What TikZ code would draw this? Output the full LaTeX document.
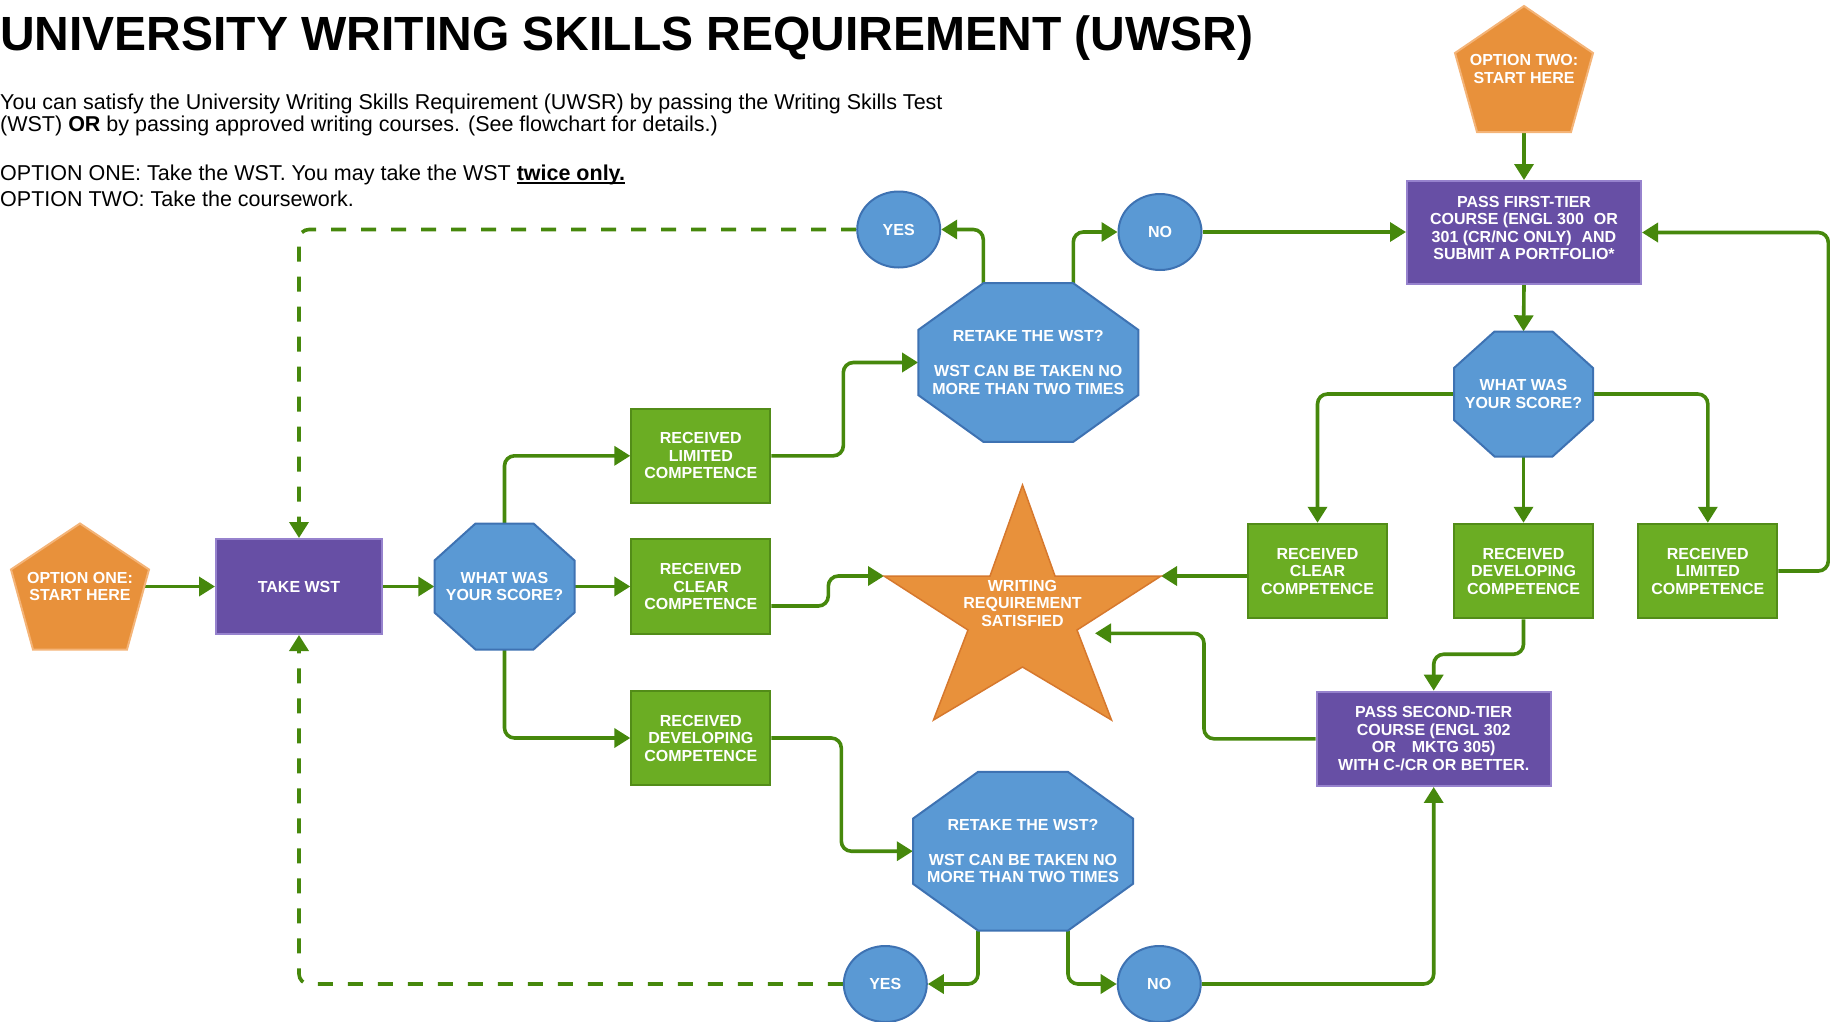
\documentclass[tikz,border=0pt]{standalone}
\usepackage{fontspec}
\setmainfont{Liberation Sans}
\usetikzlibrary{arrows.meta,shapes.geometric,calc}
\pgfdeclarelayer{bg}
\pgfsetlayers{bg,main}
\definecolor{lgreen}{RGB}{70,136,12}
\definecolor{bgreen}{RGB}{107,173,35}
\definecolor{bgreend}{RGB}{82,140,24}
\definecolor{purp}{RGB}{103,79,165}
\definecolor{purpd}{RGB}{150,130,205}
\definecolor{blu}{RGB}{90,153,212}
\definecolor{blud}{RGB}{62,114,178}
\definecolor{orng}{RGB}{232,145,59}
\definecolor{orngl}{RGB}{244,180,120}
\definecolor{orngd}{RGB}{214,120,45}
% style, cx, cy, halfwidth, halfheight, half top edge, half side edge
\newcommand{\octo}[7]{\path[#1] ({#2-#6},{#3-#5}) -- ({#2+#6},{#3-#5}) -- ({#2+#4},{#3-#7}) -- ({#2+#4},{#3+#7}) -- ({#2+#6},{#3+#5}) -- ({#2-#6},{#3+#5}) -- ({#2-#4},{#3+#7}) -- ({#2-#4},{#3-#7}) -- cycle;}
\newcommand{\myul}[1]{\setbox0\hbox{#1}\rlap{\rule[-3.8pt]{\wd0}{2.3pt}}\box0}
\begin{document}
\begin{tikzpicture}[x=1pt,y=-1pt,
  conn/.style={draw=lgreen, line width=3.6pt, rounded corners=10pt, -{Triangle[length=16pt,width=19pt]}},
  dconn/.style={conn, dash pattern=on 15pt off 15pt},
  ntxt/.style={text=white, font=\fontsize{16}{17.5}\selectfont\bfseries, align=center, inner sep=0pt},
  gbox/.style={ntxt, rectangle, fill=bgreen, draw=bgreend, line width=2pt, minimum width=139pt, minimum height=94.5pt},
  pbox/.style={ntxt, rectangle, fill=purp, draw=purpd, line width=2pt},
  oval/.style={ntxt, ellipse, fill=blu, draw=blud, line width=2pt, minimum width=83pt, minimum height=76pt},
  octshape/.style={fill=blu, draw=blud, line width=2pt},
  pentshape/.style={fill=orng, draw=orngl, line width=2pt},
  starshape/.style={fill=orng, draw=orngd, line width=1.5pt},
  plain/.style={anchor=base west, inner sep=0pt, font=\fontsize{21.5}{24.5}\selectfont}
]
\useasboundingbox (0,0) rectangle (1830,1021);

% header text
\node[anchor=base west, inner sep=0pt, font=\fontsize{48}{56}\selectfont\bfseries] (title) at (0,50.5) {UNIVERSITY WRITING SKILLS REQUIREMENT (UWSR)};
\node[plain] (p1) at (0,109) {You can satisfy the University Writing Skills Requirement (UWSR) by passing the Writing Skills Test};
\node[plain] (p2) at (0,131.5) {(WST) \textbf{OR} by passing approved writing courses. (See flowchart for details.)};
\node[plain] (p3) at (0,180.5) {OPTION ONE: Take the WST. You may take the WST \myul{\textbf{twice only.}}};
\node[plain] (p4) at (0,206) {OPTION TWO: Take the coursework.};

% option one pentagon
\path[pentshape] (80,523.5) -- (149,569.5) -- (127,649.5) -- (33,649.5) -- (11,569.5) -- cycle;
\node[ntxt, minimum width=138pt, minimum height=126pt] (opt1) at (80,586.5) {OPTION ONE:\\START HERE};

% option two pentagon
\path[pentshape] (1524,6) -- (1593,53) -- (1571,132) -- (1477,132) -- (1455,53) -- cycle;
\node[ntxt, minimum width=138pt, minimum height=126pt] (opt2) at (1524,69) {OPTION TWO:\\START HERE};

% take wst
\node[pbox, minimum width=166pt, minimum height=95pt] (takewst) at (299,586.5) {TAKE WST};

% score octagons
\octo{octshape}{504.5}{586.5}{70}{63}{29}{26}
\node[ntxt, minimum width=140pt, minimum height=126pt] (score1) at (504.5,586.5) {WHAT WAS\\YOUR SCORE?};
\octo{octshape}{1523.5}{394}{69.5}{62.5}{29}{26}
\node[ntxt, minimum width=139pt, minimum height=125pt] (score2) at (1523.5,394) {WHAT WAS\\YOUR SCORE?};

% left green boxes
\node[gbox] (lim1) at (700.8,455.8) {RECEIVED\\LIMITED\\COMPETENCE};
\node[gbox] (clr1) at (700.8,586.5) {RECEIVED\\CLEAR\\COMPETENCE};
\node[gbox] (dev1) at (700.8,738) {RECEIVED\\DEVELOPING\\COMPETENCE};

% right green boxes
\node[gbox] (clr2) at (1317.5,571) {RECEIVED\\CLEAR\\COMPETENCE};
\node[gbox] (dev2) at (1523.5,571) {RECEIVED\\DEVELOPING\\COMPETENCE};
\node[gbox] (lim2) at (1707.8,571) {RECEIVED\\LIMITED\\COMPETENCE};

% retake octagons
\octo{octshape}{1028.3}{362.5}{110}{79.3}{45}{32.6}
\node[ntxt, minimum width=220pt, minimum height=158.6pt] (retake1) at (1028.3,362.5) {RETAKE THE WST?\\[17.5pt]WST CAN BE TAKEN NO\\MORE THAN TWO TIMES};
\coordinate (r1tl) at ({1028.3-45},{362.5-79.3});
\coordinate (r1tr) at ({1028.3+45},{362.5-79.3});
\octo{octshape}{1023}{851.2}{110}{79.3}{45}{32.6}
\node[ntxt, minimum width=220pt, minimum height=158.6pt] (retake2) at (1023,851.2) {RETAKE THE WST?\\[17.5pt]WST CAN BE TAKEN NO\\MORE THAN TWO TIMES};
\coordinate (r2bl) at ({1023-45},{851.2+79.3});
\coordinate (r2br) at ({1023+45},{851.2+79.3});

% yes / no ovals
\node[oval] (yes1) at (898.7,229.5) {YES};
\node[oval] (no1) at (1160,232) {NO};
\node[oval] (yes2) at (885.3,984) {YES};
\node[oval] (no2) at (1159.2,984) {NO};

% star
\path[starshape] (1022.5,485) -- (1055,576) -- (1161,576) -- (1077,630) -- (1111.5,720) -- (1022.5,667) -- (933.5,720) -- (968,630) -- (884,576) -- (990,576) -- cycle;
\node[ntxt] (star) at (1022.5,603.3) {WRITING\\REQUIREMENT\\SATISFIED};
\coordinate (starL) at (884,576);
\coordinate (starR) at (1161,576);
\coordinate (starIn) at (1095,633.3);

% purple course boxes
\node[pbox, minimum width=234pt, minimum height=103pt] (pass1) at (1524,232.5) {};
\node[ntxt] (pass1txt) at (1524,228) {PASS FIRST-TIER\\COURSE (ENGL 300\hspace{10pt}OR\hspace*{12pt}\\301 (CR/NC ONLY)\hspace{10pt}AND\hspace*{12pt}\\SUBMIT A PORTFOLIO*};
\node[pbox, minimum width=234pt, minimum height=94.3pt] (pass2) at (1433.7,738.8) {PASS SECOND-TIER\\COURSE (ENGL 302\hspace*{18pt}\\OR\hspace{16pt}MKTG 305)\\WITH C-/CR OR BETTER.};

% connectors
\begin{pgfonlayer}{bg}
\draw[conn] (opt1.center) -- (takewst.west);
\draw[conn] (takewst.east) -- (score1.west);
\draw[conn] (score1.east) -- (clr1.west);
\draw[conn] (score1.north) |- (lim1.west);
\draw[conn] (score1.south) |- (dev1.west);
\draw[conn] (lim1.east) -- ++(72,0) |- (retake1.west);
\draw[conn] ($(clr1.east)+(0,19.5)$) -- ++(57,0) |- (starL);
\draw[conn] (dev1.east) -- ++(70,0) |- (retake2.west);
\draw[conn] (r1tl) |- (yes1.east);
\draw[conn] (r1tr) |- (no1.west);
\draw[dconn] (yes1.west) -| (takewst.north);
\draw[conn] (no1.east) -- (no1.east -| pass1.west);
\draw[conn] (opt2.center) -- (pass1.north);
\draw[conn] (pass1.south) -- (score2.north);
\draw[conn] (score2.west) -| (clr2.north);
\draw[conn] (score2.south) -- (dev2.north);
\draw[conn] (score2.east) -| (lim2.north);
\draw[conn] (clr2.west |- starR) -- (starR);
\draw[conn] (lim2.east) -- ++(50,0) |- (pass1.east);
\draw[conn] (dev2.south) -- ++(0,35) -| (pass2.north);
\draw[conn] (pass2.west) -- ++(-111.7,0) |- (starIn);
\draw[conn] (r2bl) |- (yes2.east);
\draw[conn] (r2br) |- (no2.west);
\draw[conn] (no2.east) -| (pass2.south);
\draw[dconn] (yes2.west) -| (takewst.south);
\end{pgfonlayer}
\end{tikzpicture}
\end{document}
